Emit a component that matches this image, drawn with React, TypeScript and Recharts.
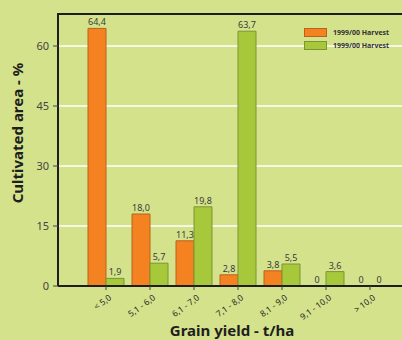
import { BarChart, Bar, XAxis, YAxis, CartesianGrid, Rectangle } from "recharts"

const categories = ["< 5,0", "5,1 - 6,0", "6,1 - 7,0", "7,1 - 8,0", "8,1 - 9,0", "9,1 - 10,0", "> 10,0"]
const harvestA = [64.4, 18.0, 11.3, 2.8, 3.8, 0, 0]
const harvestB = [1.9, 5.7, 19.8, 63.7, 5.5, 3.6, 0]
const yTicks = [0, 15, 30, 45, 60]
const legendNames = ["1999/00 Harvest", "1999/00 Harvest"]

const data = categories.map((name, i) => ({ name, a: harvestA[i], b: harvestB[i] }))

const ORANGE = "#f58220"
const GREEN = "#a6c83a"
const BG = "#d3e28b"
const FONT = "'Noto Sans', 'Open Sans', sans-serif"

const fmt = (v: number) => (v === 0 ? "0" : v.toFixed(1).replace(".", ","))

// zero values still need a (hidden) rectangle so their "0" label gets placed
const zeroPoint = (v: any) => (Number(v) === 0 ? 0.01 : 0)
const BarShape = (p: any) => (p.height < 0.5 ? <g /> : <Rectangle {...p} />)

function XTick(props: any) {
  const { x, y, payload } = props
  return (
    <g transform={`translate(${x + 6},${y + 7})`}>
      <text transform="rotate(-36)" textAnchor="end" fontSize={8.5} fill="#2a2a2a" fontFamily={FONT}>
        {payload.value}
      </text>
    </g>
  )
}

function BarValue(props: any) {
  const { x, y, width, value } = props
  return (
    <text x={x + width / 2} y={y - 3} textAnchor="middle" fontSize={9} fill="#3a3a3a" fontFamily={FONT}>
      {fmt(Number(value))}
    </text>
  )
}

export default function App() {
  return (
    <div
      style={{
        position: "absolute",
        left: 0,
        top: 0,
        width: 402,
        height: 340,
        overflow: "hidden",
        background: BG,
        fontFamily: FONT,
      }}
    >
      <BarChart
        width={440}
        height={340}
        data={data}
        margin={{ top: 14, right: 0, bottom: 0, left: 10 }}
        barSize={18}
        barGap={0}
      >
        <CartesianGrid horizontal vertical={false} stroke="#ffffff" strokeWidth={1.5} />
        <XAxis
          dataKey="name"
          height={54}
          padding={{ left: 26, right: 48 }}
          axisLine={{ stroke: "#1e1e1e", strokeWidth: 2 }}
          tickLine={{ stroke: "#444" }}
          tickSize={4}
          tick={<XTick />}
          interval={0}
        />
        <YAxis
          width={48}
          domain={[0, 68]}
          ticks={yTicks}
          axisLine={{ stroke: "#1e1e1e", strokeWidth: 2 }}
          tickLine={{ stroke: "#444" }}
          tickSize={5}
          tick={{ fontSize: 11, fill: "#444", fontFamily: FONT }}
          tickMargin={4}
          allowDataOverflow
        />
        <Bar
          dataKey="a"
          fill={ORANGE}
          stroke="#b8621e"
          strokeWidth={1}
          isAnimationActive={false}
          minPointSize={zeroPoint}
          shape={BarShape}
          label={<BarValue />}
        />
        <Bar
          dataKey="b"
          fill={GREEN}
          stroke="#7c9632"
          strokeWidth={1}
          isAnimationActive={false}
          minPointSize={zeroPoint}
          shape={BarShape}
          label={<BarValue />}
        />
      </BarChart>

      {/* frame top edge */}
      <div style={{ position: "absolute", left: 57, top: 13, width: 360, height: 2, background: "#1e1e1e" }} />

      {/* legend */}
      <div style={{ position: "absolute", left: 304, top: 26 }}>
        {legendNames.map((n, i) => (
          <div key={i} style={{ display: "flex", alignItems: "center", height: 12, marginBottom: 1 }}>
            <div
              style={{
                width: 21,
                height: 7,
                background: i === 0 ? ORANGE : GREEN,
                border: `1px solid ${i === 0 ? "#b8621e" : "#7c9632"}`,
              }}
            />
            <span style={{ marginLeft: 6, fontSize: 7, fontWeight: 700, color: "#333", whiteSpace: "nowrap" }}>{n}</span>
          </div>
        ))}
      </div>

      {/* axis titles */}
      <div
        style={{
          position: "absolute",
          left: 17,
          top: 133,
          transform: "translate(-50%, -50%) rotate(-90deg)",
          fontSize: 15,
          fontWeight: 700,
          color: "#1e1e1e",
          whiteSpace: "nowrap",
        }}
      >
        Cultivated area - %
      </div>
      <div
        style={{
          position: "absolute",
          left: 232,
          top: 330,
          transform: "translate(-50%, -50%)",
          fontSize: 15,
          fontWeight: 700,
          color: "#1e1e1e",
          whiteSpace: "nowrap",
          lineHeight: "18px",
        }}
      >
        Grain yield - t/ha
      </div>
    </div>
  )
}
